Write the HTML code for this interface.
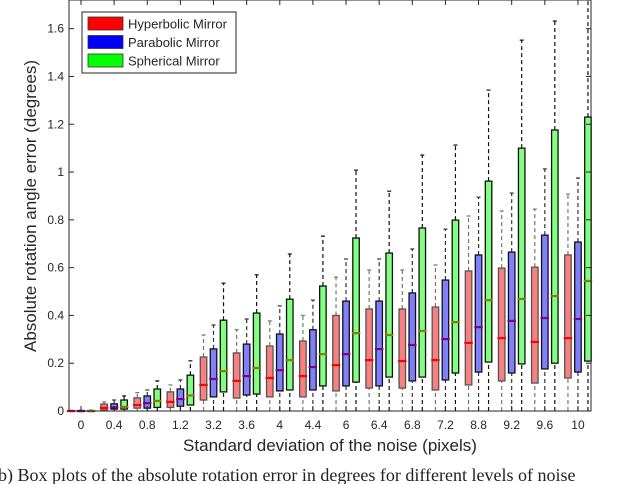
<!DOCTYPE html>
<html><head><meta charset="utf-8"><style>
body{margin:0;background:#fff;width:618px;height:484px;overflow:hidden}
svg{display:block;font-family:"Liberation Sans",sans-serif}
</style></head><body>
<svg id="chart" width="618" height="484"></svg>
<script>
const categories=["0","0.4","0.8","1.2","3.2","3.6","4","4.4","6","6.4","6.8","7.2","8.8","9.2","9.6","10"];
const seriesNames=["Hyperbolic Mirror","Parabolic Mirror","Spherical Mirror"];
// [lo, q1, median, q3, hi]
const hyperbolic=[[0,0,0,0,0.003],[0,0.004,0.013,0.029,0.038],[0,0.012,0.025,0.055,0.077],[0,0.015,0.038,0.08,0.109],[0,0.046,0.109,0.226,0.318],[0,0.054,0.126,0.243,0.34],[0,0.059,0.138,0.272,0.377],[0,0.059,0.146,0.293,0.4],[0,0.084,0.192,0.4,0.56],[0,0.096,0.213,0.427,0.59],[0,0.096,0.209,0.427,0.59],[0,0.088,0.213,0.435,0.611],[0,0.109,0.285,0.586,0.816],[0,0.126,0.305,0.598,0.837],[0,0.117,0.289,0.602,0.845],[0,0.138,0.305,0.653,0.908]];
const parabolic=[[0,0,0,0,0.003],[0,0.008,0.015,0.03,0.046],[0,0.012,0.033,0.063,0.088],[0,0.02,0.05,0.092,0.13],[0,0.059,0.134,0.26,0.36],[0,0.067,0.146,0.28,0.385],[0,0.084,0.171,0.322,0.44],[0,0.088,0.184,0.34,0.464],[0,0.105,0.238,0.46,0.636],[0,0.105,0.259,0.46,0.636],[0,0.126,0.276,0.494,0.678],[0,0.13,0.301,0.548,0.761],[0,0.163,0.351,0.653,0.895],[0,0.159,0.377,0.665,0.912],[0,0.176,0.389,0.736,1.013],[0,0.163,0.385,0.707,0.975]];
const spherical=[[0,0,0,0,0.003],[0,0.008,0.017,0.046,0.063],[0,0.015,0.042,0.092,0.126],[0,0.025,0.065,0.15,0.21],[0,0.08,0.167,0.38,0.535],[0,0.071,0.18,0.41,0.57],[0,0.088,0.213,0.468,0.657],[0,0.105,0.238,0.523,0.732],[0,0.121,0.326,0.724,1.008],[0,0.142,0.318,0.661,0.92],[0,0.142,0.335,0.766,1.071],[0,0.159,0.372,0.799,1.113],[0,0.205,0.464,0.962,1.343],[0,0.197,0.469,1.1,1.552],[0,0.2,0.481,1.176,1.632],[0,0.209,0.544,1.23,1.8]];
const yTicks=[0,0.2,0.4,0.6,0.8,1,1.2,1.4,1.6];
const yTickLabels=["0","0.2","0.4","0.6","0.8","1","1.2","1.4","1.6"];

const NS="http://www.w3.org/2000/svg";
const svg=document.getElementById('chart');
const L=69,R=591,T=0,B=411,YMAX=1.72;
const y=v=>B-(Math.min(v,YMAX))/YMAX*(B-T);
const xc=i=>81+i*33.13;
function mk(tag,a,parent){const e=document.createElementNS(NS,tag);for(const k in a)e.setAttribute(k,a[k]);(parent||svg).appendChild(e);return e;}
const series=[{d:hyperbolic,fill:"#f98080",stroke:"#555",med:"#ff0000",off:-10,wh:"#777"},
{d:parabolic,fill:"#8080ff",stroke:"#111",med:"#800080",off:0,wh:"#333"},
{d:spherical,fill:"#80ff80",stroke:"#111",med:"#808000",off:10,wh:"#111"}];
const plot=mk('g',{});


series.forEach((s,si)=>{
 s.d.forEach((b,i)=>{
  const g=mk('g',{},plot);
  
  
  const cx=xc(i)+s.off,w=6.5;
  mk('line',{x1:cx,x2:cx,y1:y(b[3]),y2:y(b[4]),stroke:s.wh,'stroke-width':1.2,'stroke-dasharray':'4,3'},g);
  mk('line',{x1:cx,x2:cx,y1:y(b[0]),y2:y(b[1]),stroke:s.wh,'stroke-width':1.2,'stroke-dasharray':'4,3'},g);
  mk('line',{x1:cx-2,x2:cx+2,y1:y(b[4]),y2:y(b[4]),stroke:s.wh,'stroke-width':1.2},g);
  mk('rect',{x:cx-w/2,y:y(b[3]),width:w,height:Math.max(0.5,y(b[1])-y(b[3])),fill:s.fill,stroke:s.stroke,'stroke-width':1.3},g);
  mk('line',{x1:cx-w/2-1,x2:cx+w/2+1,y1:y(b[2]),y2:y(b[2]),stroke:s.med,'stroke-width':2.2},g);
 });
});
const ax=mk('rect',{x:L,y:T,width:R-L,height:B-T,fill:'none',stroke:'#262626','stroke-width':1});


yTicks.forEach((t,i)=>{
 mk('line',{x1:L,x2:L+5,y1:y(t),y2:y(t),stroke:'#262626'});
 mk('line',{x1:R,x2:R-5,y1:y(t),y2:y(t),stroke:'#262626'});
 const tx=mk('text',{x:L-5,y:y(t)+4,'text-anchor':'end','font-size':12,fill:'#262626'});
 tx.textContent=yTickLabels[i];
 
 
});
categories.forEach((c,i)=>{
 mk('line',{x1:xc(i),x2:xc(i),y1:B,y2:B-5,stroke:'#262626'});
 mk('line',{x1:xc(i),x2:xc(i),y1:T,y2:T+5,stroke:'#262626'});
 const tx=mk('text',{x:xc(i),y:429,'text-anchor':'middle','font-size':12,fill:'#262626'});
 tx.textContent=c;
 
 
});
const xt=mk('text',{x:330,y:451,'text-anchor':'middle','font-size':17,fill:'#262626'});
xt.textContent='Standard deviation of the noise (pixels)';


const yt=mk('text',{x:0,y:0,'text-anchor':'middle','font-size':17,fill:'#262626',transform:'translate(36,206) rotate(-90)'});
yt.textContent='Absolute rotation angle error (degrees)';


const lg=mk('g',{});


mk('rect',{x:82,y:12,width:154,height:61,fill:'#fff',stroke:'#262626','stroke-width':1},lg);
const sw=["#ff0000","#0000ff","#00ff00"];
seriesNames.forEach((n,i)=>{
 const e=mk('g',{},lg);
 
 
 mk('rect',{x:88,y:17+i*18.5,width:35,height:13,fill:sw[i],stroke:'#333','stroke-width':0.8},e);
 const t=mk('text',{x:128,y:28.5+i*18.5,'font-size':13,fill:'#262626'},e);
 t.textContent=n;
});
const cap=mk('text',{x:-8,y:481,'font-size':18,fill:'#222','font-family':'"Liberation Serif",serif'});
cap.textContent='(b) Box plots of the absolute rotation error in degrees for different levels of noise';


</script>
</body></html>
